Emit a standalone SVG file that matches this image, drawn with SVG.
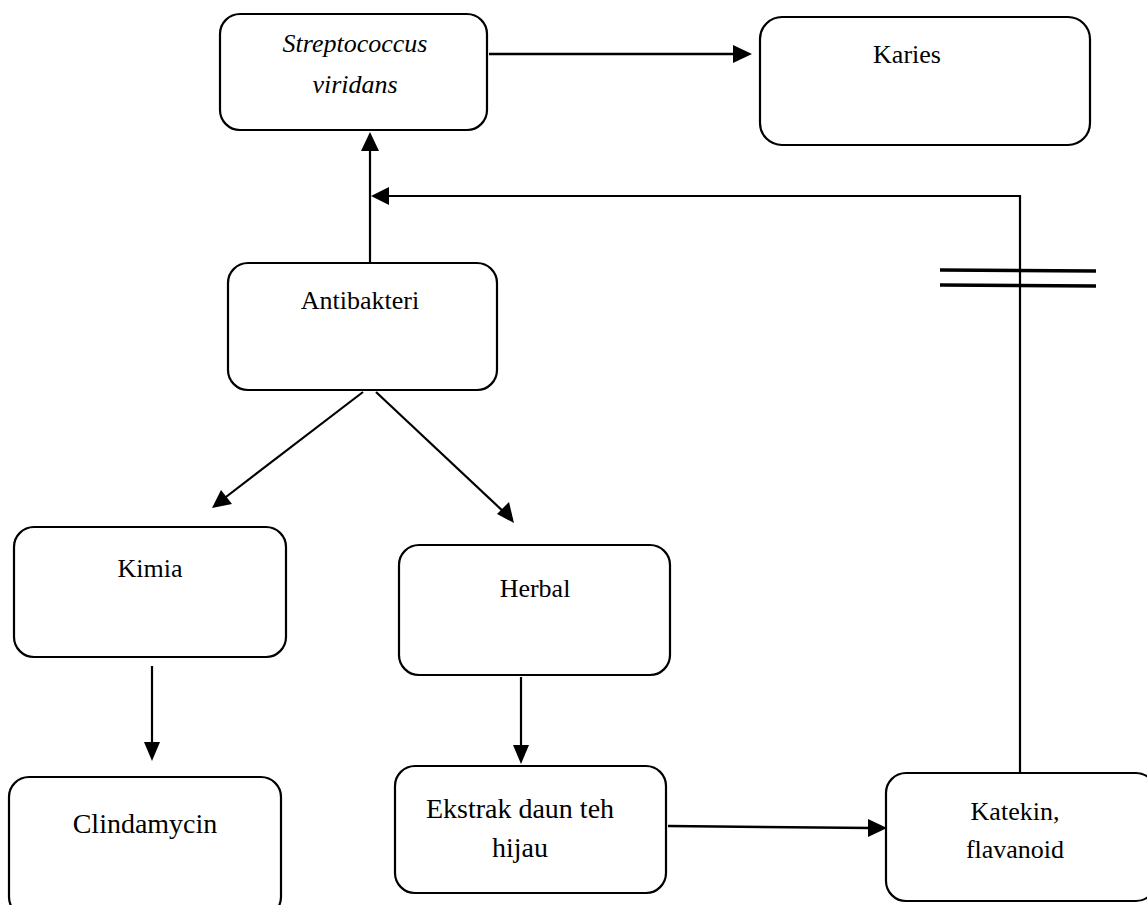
<svg xmlns="http://www.w3.org/2000/svg" width="1147" height="905" viewBox="0 0 1147 905">
<style>
.box{fill:#fff;stroke:#000;stroke-width:2.2}
.t{font-family:"Liberation Serif","Times New Roman",serif;font-size:26px;fill:#000;text-anchor:middle}
.b{font-size:28px}
.it{font-style:italic}
.c{fill:none;stroke:#000;stroke-width:2.2}
.bar{stroke:#000;stroke-width:3.5}
.ah{fill:#000}
</style>
<rect width="1147" height="905" fill="#fff"/>
<g id="connectors">
<line class="c" x1="489" y1="54" x2="740" y2="54" style="stroke-width:2.5"/>
<path class="ah" d="M752,54 L733,45 L733,63 z"/>
<path class="c" d="M1020,773 L1020,196 L380,196"/>
<path class="ah" d="M371,196 L389,187 L389,205 z"/>
<line class="c" x1="370" y1="262" x2="370" y2="145"/>
<path class="ah" d="M370,132 L361,151 L379,151 z"/>
<line class="c" x1="363" y1="392" x2="222" y2="500"/>
<path class="ah" d="M212,508 L221,490 L232,504 z"/>
<line class="c" x1="376" y1="392" x2="506" y2="514"/>
<path class="ah" d="M514,523 L497,514 L509,502 z"/>
<line class="c" x1="152" y1="666" x2="152" y2="748"/>
<path class="ah" d="M152,761 L144,742 L160,742 z"/>
<line class="c" x1="521" y1="677" x2="521" y2="750"/>
<path class="ah" d="M521,764 L513,745 L529,745 z"/>
<line class="c" x1="668" y1="826" x2="872" y2="828" style="stroke-width:2.5"/>
<path class="ah" d="M887,828 L868,819 L868,837 z"/>
<line class="bar" x1="940" y1="270" x2="1096" y2="271"/>
<line class="bar" x1="940" y1="285" x2="1096" y2="286"/>
</g>
<g id="strep">
<rect class="box" x="220" y="14" width="267" height="116" rx="20"/>
<text class="t it" x="355" y="52">Streptococcus</text>
<text class="t it" x="355" y="93">viridans</text>
</g>
<g id="karies">
<rect class="box" x="760" y="17" width="330" height="128" rx="22"/>
<text class="t" x="907" y="63">Karies</text>
</g>
<g id="antibakteri">
<rect class="box" x="228" y="263" width="269" height="127" rx="20"/>
<text class="t" x="360" y="309">Antibakteri</text>
</g>
<g id="kimia">
<rect class="box" x="14" y="527" width="272" height="130" rx="20"/>
<text class="t" x="150" y="577">Kimia</text>
</g>
<g id="herbal">
<rect class="box" x="399" y="545" width="271" height="130" rx="20"/>
<text class="t" x="535" y="597">Herbal</text>
</g>
<g id="clindamycin">
<rect class="box" x="9" y="777" width="272" height="140" rx="20"/>
<text class="t b" x="145" y="833">Clindamycin</text>
</g>
<g id="ekstrak">
<rect class="box" x="395" y="766" width="271" height="127" rx="20"/>
<text class="t b" x="520" y="818">Ekstrak daun teh</text>
<text class="t b" x="520" y="857">hijau</text>
</g>
<g id="katekin">
<rect class="box" x="886" y="773" width="270" height="128" rx="20"/>
<text class="t" x="1015" y="820">Katekin,</text>
<text class="t" x="1015" y="858">flavanoid</text>
</g>
</svg>
